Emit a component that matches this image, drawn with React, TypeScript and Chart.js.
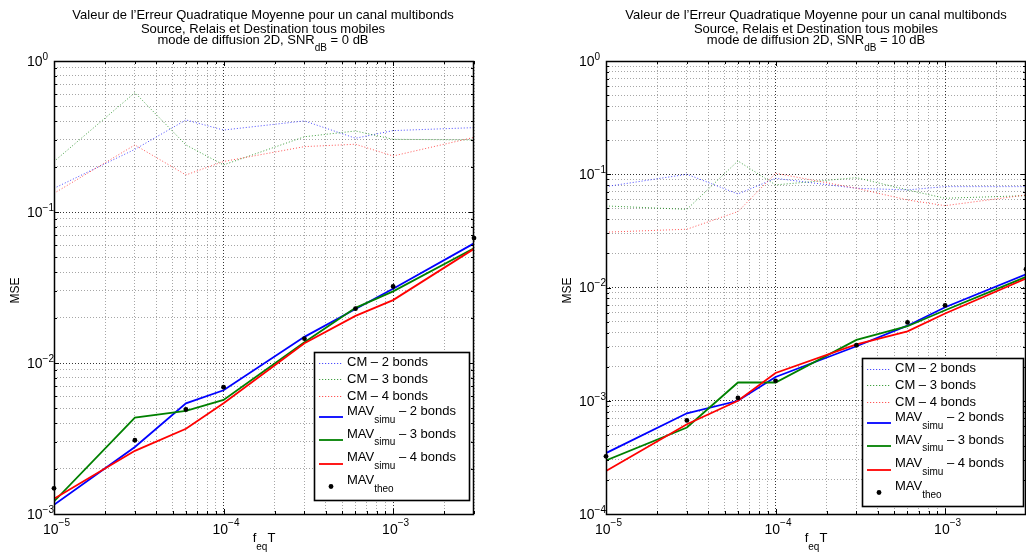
import React, { useEffect, useRef } from 'react';
import { Chart, registerables } from 'chart.js';

Chart.register(...registerables);

// ---------- data ----------
const fEqT = [1e-5, 3e-5, 6e-5, 1e-4, 3e-4, 6e-4, 1e-3, 3e-3];

// SNR = 0 dB
const cm2Snr0 = [0.1435, 0.26, 0.407, 0.349, 0.401, 0.308, 0.346, 0.362];
const cm3Snr0 = [0.216, 0.617, 0.278, 0.205, 0.315, 0.344, 0.303, 0.3];
const cm4Snr0 = [0.133, 0.278, 0.176, 0.216, 0.271, 0.281, 0.235, 0.312];
const mav2Snr0 = [1.15e-3, 2.78e-3, 5.41e-3, 6.6e-3, 0.0149, 0.0228, 0.031, 0.062];
const mav3Snr0 = [1.21e-3, 4.35e-3, 4.82e-3, 5.7e-3, 0.0137, 0.0232, 0.0298, 0.0575];
const mav4Snr0 = [1.26e-3, 2.62e-3, 3.67e-3, 5.41e-3, 0.0135, 0.0205, 0.0261, 0.057];
const theoSnr0 = [1.48e-3, 3.08e-3, 4.92e-3, 6.92e-3, 0.0145, 0.0229, 0.0321, 0.0672];

// SNR = 10 dB
const cm2Snr10 = [0.0778, 0.1, 0.067, 0.092, 0.0752, 0.0727, 0.0778, 0.0778];
const cm3Snr10 = [0.0525, 0.049, 0.131, 0.0805, 0.0933, 0.0727, 0.0614, 0.0647];
const cm4Snr10 = [0.0308, 0.0327, 0.0468, 0.102, 0.0752, 0.0593, 0.0528, 0.0656];
const mav2Snr10 = [3.45e-4, 7.75e-4, 1.0e-3, 1.62e-3, 3.03e-3, 4.6e-3, 6.7e-3, 0.0131];
const mav3Snr10 = [2.97e-4, 5.8e-4, 1.45e-3, 1.45e-3, 3.45e-3, 4.55e-3, 6.3e-3, 0.0124];
const mav4Snr10 = [2.4e-4, 6.2e-4, 1.0e-3, 1.76e-3, 3.15e-3, 4.1e-3, 5.9e-3, 0.012];
const theoSnr10 = [3.23e-4, 6.7e-4, 1.06e-3, 1.5e-3, 3.09e-3, 4.92e-3, 6.95e-3, 0.0145];

// axes / ticks
const xRange = [1e-5, 3e-3];
const xTickExponents = [-5, -4, -3];
const yRangeSnr0 = [1e-3, 1];
const yTickExponentsSnr0 = [0, -1, -2, -3];
const yRangeSnr10 = [1e-4, 1];
const yTickExponentsSnr10 = [0, -1, -2, -3, -4];

// texts
const titleLine1 = "Valeur de l’Erreur Quadratique Moyenne pour un canal multibonds";
const titleLine2 = 'Source, Relais et Destination tous mobiles';
const titleLine3Main = 'mode de diffusion 2D, SNR';
const titleLine3Sub = 'dB';
const snrValues = [' = 0 dB', ' = 10 dB'];
const yAxisLabel = 'MSE';
const legendMain = ['CM', 'CM', 'CM', 'MAV', 'MAV', 'MAV', 'MAV'];
const legendSub = ['', '', '', 'simu', 'simu', 'simu', 'theo'];
const legendRest = [' – 2 bonds', ' – 3 bonds', ' – 4 bonds', ' – 2 bonds', ' – 3 bonds', ' – 4 bonds', ''];

// ---------- styles ----------
const FONT = '"Liberation Sans", Arial, Helvetica, sans-serif';
const f = (s: number) => `${s}px ${FONT}`;
const solidColors = ['#0000ff', '#008000', '#ff0000'];
const dottedColors = ['rgba(30,30,255,0.8)', 'rgba(0,128,0,0.75)', 'rgba(255,30,30,0.75)'];

type Part = { t: string; size: number; dy: number };

function drawParts(ctx: CanvasRenderingContext2D, x: number, y: number, parts: Part[], align: 'left' | 'center') {
  ctx.textBaseline = 'middle';
  ctx.textAlign = 'left';
  let total = 0;
  const widths = parts.map((p) => {
    ctx.font = f(p.size);
    const w = ctx.measureText(p.t).width;
    total += w;
    return w;
  });
  let cx = align === 'center' ? x - total / 2 : x;
  parts.forEach((p, i) => {
    ctx.font = f(p.size);
    ctx.fillText(p.t, cx, y + p.dy);
    cx += widths[i];
  });
}

function logTicks(min: number, max: number) {
  const out: number[] = [];
  const e0 = Math.floor(Math.log10(min));
  const e1 = Math.ceil(Math.log10(max));
  for (let e = e0; e <= e1; e++) {
    for (let s = 1; s <= 9; s++) {
      const v = s * Math.pow(10, e);
      if (v >= min * (1 - 1e-9) && v <= max * (1 + 1e-9)) out.push(v);
    }
  }
  return out;
}
const isDecade = (v: number) => Math.abs(Math.log10(v) - Math.round(Math.log10(v))) < 1e-6;
const expText = (e: number) => (e < 0 ? '−' + Math.abs(e) : String(e));

type Panel = {
  cm: number[][];
  mav: number[][];
  theo: number[];
  yRange: number[];
  yExps: number[];
  snr: string;
  canvasLeft: number;
  canvasWidth: number;
  area: { left: number; top: number; right: number; bottom: number };
  titleCenter: number;
  legend: { x: number; y: number; w: number; h: number };
};

const H = 554;

function PanelChart({ p }: { p: Panel }) {
  const ref = useRef<HTMLCanvasElement | null>(null);
  useEffect(() => {
    const canvas = ref.current;
    if (!canvas) return;
    const pts = (arr: number[]) => fEqT.map((x, i) => ({ x, y: arr[i] }));
    const datasets: any[] = [];
    p.cm.forEach((arr, i) =>
      datasets.push({
        label: legendMain[i] + legendRest[i],
        data: pts(arr),
        showLine: true,
        borderColor: dottedColors[i],
        borderWidth: 1,
        borderDash: [1, 2],
        pointRadius: 0,
        order: 9 - i,
      })
    );
    p.mav.forEach((arr, i) =>
      datasets.push({
        label: legendMain[3 + i] + '_' + legendSub[3 + i] + legendRest[3 + i],
        data: pts(arr),
        showLine: true,
        borderColor: solidColors[i],
        borderWidth: 1.8,
        pointRadius: 0,
        order: 6 - i,
      })
    );
    datasets.push({
      label: 'MAV_theo',
      data: pts(p.theo),
      showLine: false,
      pointRadius: 2.4,
      pointBackgroundColor: '#000',
      pointBorderColor: '#000',
      pointBorderWidth: 0,
      clip: false,
      order: 1,
    });

    const decor = {
      id: 'matlabDecor',
      afterDraw(chart: any) {
        const ctx: CanvasRenderingContext2D = chart.ctx;
        const a = chart.chartArea;
        const xs = chart.scales.x;
        const ys = chart.scales.y;
        ctx.save();
        ctx.fillStyle = '#000';
        ctx.strokeStyle = '#000';
        ctx.lineWidth = 1;
        // tick marks (inward, all four sides)
        ctx.beginPath();
        logTicks(xRange[0], xRange[1]).forEach((v) => {
          const px = Math.round(xs.getPixelForValue(v)) + 0.5;
          const len = isDecade(v) ? 5 : 3;
          ctx.moveTo(px, a.bottom);
          ctx.lineTo(px, a.bottom - len);
          ctx.moveTo(px, a.top);
          ctx.lineTo(px, a.top + len);
        });
        logTicks(p.yRange[0], p.yRange[1]).forEach((v) => {
          const py = Math.round(ys.getPixelForValue(v)) + 0.5;
          const len = isDecade(v) ? 5 : 3;
          ctx.moveTo(a.left, py);
          ctx.lineTo(a.left + len, py);
          ctx.moveTo(a.right, py);
          ctx.lineTo(a.right - len, py);
        });
        ctx.stroke();
        // box
        ctx.lineWidth = 1.5;
        ctx.strokeRect(a.left + 0.5, a.top + 0.5, a.right - a.left - 1, a.bottom - a.top);
        // x tick labels
        xTickExponents.forEach((e) => {
          const px = xs.getPixelForValue(Math.pow(10, e));
          drawParts(ctx, px - 11, 530, [
            { t: '10', size: 14, dy: 0 },
            { t: expText(e), size: 10, dy: -7 },
          ], 'left');
        });
        // y tick labels
        p.yExps.forEach((e) => {
          const py = ys.getPixelForValue(Math.pow(10, e));
          drawParts(ctx, a.left - 27, py + 1, [
            { t: '10', size: 14, dy: 0 },
            { t: expText(e), size: 10, dy: -5 },
          ], 'left');
        });
        // axis labels
        const cx = (a.left + a.right) / 2;
        drawParts(ctx, cx, 538, [
          { t: 'f', size: 13, dy: 0 },
          { t: 'eq', size: 10, dy: 9 },
          { t: 'T', size: 13, dy: 0 },
        ], 'center');
        ctx.save();
        ctx.translate(a.left - 38, (a.top + a.bottom) / 2 + 3);
        ctx.rotate(-Math.PI / 2);
        drawParts(ctx, 0, 0, [{ t: yAxisLabel, size: 12, dy: 0 }], 'center');
        ctx.restore();
        // title
        drawParts(ctx, p.titleCenter, 15, [{ t: titleLine1, size: 13, dy: 0 }], 'center');
        drawParts(ctx, p.titleCenter, 29, [{ t: titleLine2, size: 13, dy: 0 }], 'center');
        drawParts(ctx, p.titleCenter, 40, [
          { t: titleLine3Main, size: 13, dy: 0 },
          { t: titleLine3Sub, size: 10, dy: 8 },
          { t: p.snr, size: 13, dy: 0 },
        ], 'center');
        // legend
        const L = p.legend;
        ctx.fillStyle = '#fff';
        ctx.fillRect(L.x, L.y, L.w, L.h);
        ctx.strokeStyle = '#000';
        ctx.lineWidth = 1.6;
        ctx.strokeRect(L.x + 0.5, L.y + 0.5, L.w, L.h);
        const rowMain = [10.5, 27.2, 44, 59.3, 82.2, 105.5, 128.8];
        const rowLine = [10.5, 27.2, 44, 65, 88, 112, 134.5];
        const sx0 = L.x + 5;
        const sx1 = L.x + 29;
        for (let i = 0; i < 7; i++) {
          const ly = L.y + rowLine[i];
          if (i < 3) {
            ctx.strokeStyle = dottedColors[i];
            ctx.lineWidth = 1.2;
            ctx.setLineDash([1.2, 1.8]);
            ctx.beginPath();
            ctx.moveTo(sx0, Math.round(ly) + 0.5);
            ctx.lineTo(sx1, Math.round(ly) + 0.5);
            ctx.stroke();
            ctx.setLineDash([]);
          } else if (i < 6) {
            ctx.strokeStyle = solidColors[i - 3];
            ctx.lineWidth = 1.8;
            ctx.beginPath();
            ctx.moveTo(sx0, ly);
            ctx.lineTo(sx1, ly);
            ctx.stroke();
          } else {
            ctx.fillStyle = '#000';
            ctx.beginPath();
            ctx.arc((sx0 + sx1) / 2, ly, 2.4, 0, Math.PI * 2);
            ctx.fill();
          }
          ctx.fillStyle = '#000';
          const parts: Part[] = [{ t: legendMain[i], size: 13, dy: 0 }];
          if (legendSub[i]) parts.push({ t: legendSub[i], size: 10, dy: 8.5 });
          if (legendRest[i]) parts.push({ t: legendRest[i], size: 13, dy: 0 });
          drawParts(ctx, L.x + 33, L.y + rowMain[i], parts, 'left');
        }
        ctx.restore();
      },
    };

    const gridColor = (c: any) =>
      c.tick && isDecade(c.tick.value) ? 'rgba(0,0,0,0.8)' : 'rgba(0,0,0,0.35)';

    const chart = new Chart(canvas, {
      type: 'scatter',
      data: { datasets },
      options: {
        responsive: false,
        animation: false,
        events: [],
        layout: {
          padding: {
            left: p.area.left,
            top: p.area.top,
            right: p.canvasWidth - p.area.right,
            bottom: H - p.area.bottom,
          },
        },
        plugins: {
          legend: { display: false },
          title: { display: false },
          tooltip: { enabled: false },
        },
        elements: { line: { tension: 0 } },
        scales: {
          x: {
            type: 'logarithmic',
            min: xRange[0],
            max: xRange[1],
            ticks: { display: false },
            grid: { color: gridColor, lineWidth: 1, drawTicks: false },
            border: { display: false, dash: [1, 2] },
            afterBuildTicks: (s: any) => {
              s.ticks = logTicks(xRange[0], xRange[1]).map((v) => ({ value: v }));
            },
          },
          y: {
            type: 'logarithmic',
            min: p.yRange[0],
            max: p.yRange[1],
            ticks: { display: false },
            grid: { color: gridColor, lineWidth: 1, drawTicks: false },
            border: { display: false, dash: [1, 2] },
            afterBuildTicks: (s: any) => {
              s.ticks = logTicks(p.yRange[0], p.yRange[1]).map((v) => ({ value: v }));
            },
          },
        },
      } as any,
      plugins: [decor],
    });
    return () => chart.destroy();
  }, [p]);

  return (
    <canvas
      ref={ref}
      width={p.canvasWidth}
      height={H}
      style={{ position: 'absolute', left: p.canvasLeft, top: 0, width: p.canvasWidth, height: H }}
    />
  );
}

const panels: Panel[] = [
  {
    cm: [cm2Snr0, cm3Snr0, cm4Snr0],
    mav: [mav2Snr0, mav3Snr0, mav4Snr0],
    theo: theoSnr0,
    yRange: yRangeSnr0,
    yExps: yTickExponentsSnr0,
    snr: snrValues[0],
    canvasLeft: 0,
    canvasWidth: 513,
    area: { left: 54, top: 61, right: 474, bottom: 514 },
    titleCenter: 263,
    legend: { x: 314, y: 352, w: 155, h: 148 },
  },
  {
    cm: [cm2Snr10, cm3Snr10, cm4Snr10],
    mav: [mav2Snr10, mav3Snr10, mav4Snr10],
    theo: theoSnr10,
    yRange: yRangeSnr10,
    yExps: yTickExponentsSnr10,
    snr: snrValues[1],
    canvasLeft: 513,
    canvasWidth: 520,
    area: { left: 93, top: 61, right: 513, bottom: 514 },
    titleCenter: 303,
    legend: { x: 349, y: 358, w: 161, h: 148 },
  },
];

export default function App() {
  return (
    <div
      style={{
        position: 'fixed',
        left: 0,
        top: 0,
        width: 1026,
        height: 554,
        overflow: 'hidden',
        background: '#fff',
      }}
    >
      {panels.map((p, i) => (
        <PanelChart key={i} p={p} />
      ))}
    </div>
  );
}
